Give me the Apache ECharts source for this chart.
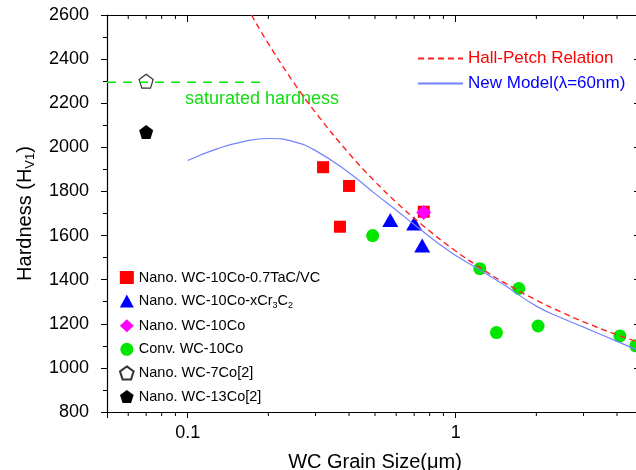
<!DOCTYPE html>
<html>
<head>
<meta charset="utf-8">
<script src="https://cdn.jsdelivr.net/npm/echarts@6/dist/echarts.min.js"></script>
<style>
  html, body { margin: 0; padding: 0; background: #fff; }
  #main { width: 636px; height: 470px; }
</style>
</head>
<body>
<div id="main"></div>
<script>
// axis ranges and ticks
const xMin = 0.05, xMax = 5;
const xLabels = [0.1, 1];
const xMinorTicks = [0.06, 0.07, 0.08, 0.09, 0.2, 0.3, 0.4, 0.5, 0.6, 0.7, 0.8, 0.9, 2, 3, 4];
const yMin = 800, yMax = 2600, yStep = 200;

// measured hardness points [grain size um, HV1]
const tacVc = [[0.32, 1910], [0.40, 1825], [0.37, 1640], [0.76, 1708]];
const cr3c2 = [[0.57, 1670], [0.70, 1655], [0.75, 1555]];
const nanoWc10Co = [[0.76, 1705]];
const convWc10Co = [[0.49, 1600], [1.23, 1450], [1.72, 1360], [1.42, 1160], [2.03, 1190], [4.1, 1145], [4.7, 1100]];
const wc7Co = [[0.07, 2300]];
const wc13Co = [[0.07, 2070]];

// curves
const hallPetch = [[0.173, 2600], [0.2, 2470], [0.25, 2290], [0.3, 2158], [0.4, 1972], [0.5, 1845], [0.6, 1751],
  [0.75, 1648], [1, 1530], [1.25, 1450], [1.5, 1390], [2, 1307], [2.5, 1251], [3, 1209], [4, 1150], [5, 1110]];
const newModel = [[0.1, 1940], [0.13, 1995], [0.16, 2025], [0.2, 2040], [0.25, 2025], [0.3, 1985], [0.4, 1885],
  [0.5, 1790], [0.6, 1715], [0.7, 1650], [0.85, 1570], [1, 1510], [1.25, 1440], [1.5, 1380], [2, 1280],
  [2.5, 1225], [3, 1185], [4, 1120], [5, 1070]];
const saturated = [[0.05, 2295], [0.19, 2295]];

const pentagon = 'path://M10,0 L19.51,6.91 L15.88,18.09 L4.12,18.09 L0.49,6.91 Z';
const font = 'Liberation Sans, Arial, sans-serif';

const chart = echarts.init(document.getElementById('main'));

const logAxis = {
  type: 'log',
  logBase: 10,
  min: xMin,
  max: xMax,
  splitLine: { show: false },
  axisLine: { lineStyle: { color: '#000', width: 1.2 } }
};

chart.setOption({
  animation: false,
  backgroundColor: '#fff',
  textStyle: { fontFamily: font },
  grid: { left: 107, width: 536, top: 15, height: 397, outerBoundsMode: 'none', containLabel: false },
  legend: [
    {
      orient: 'vertical',
      left: 412,
      top: 45,
      itemWidth: 45,
      itemHeight: 14,
      itemGap: 8,
      itemStyle: { opacity: 0 },
      textStyle: { fontSize: 17, fontFamily: font },
      data: [
        { name: 'Hall-Petch Relation', textStyle: { color: '#ff0000' } },
        { name: 'New Model(λ=60nm)', textStyle: { color: '#0000ff' } }
      ]
    },
    {
      orient: 'vertical',
      left: 114,
      top: 265,
      itemWidth: 14,
      itemHeight: 13,
      itemGap: 8.6,
      textStyle: {
        fontSize: 14.5, color: '#000', fontFamily: font,
        rich: { sub: { fontSize: 9, verticalAlign: 'bottom', padding: [8, 0, 0, 0] } }
      },
      formatter: function (name) {
        return name === 'Nano. WC-10Co-xCr3C2' ? 'Nano. WC-10Co-xCr{sub|3}C{sub|2}' : name;
      },
      data: ['Nano. WC-10Co-0.7TaC/VC', 'Nano. WC-10Co-xCr3C2', 'Nano. WC-10Co',
        'Conv. WC-10Co', 'Nano. WC-7Co[2]', 'Nano. WC-13Co[2]']
    }
  ],
  xAxis: [
    Object.assign({}, logAxis, {
      position: 'bottom',
      name: 'WC Grain Size(μm)',
      nameLocation: 'middle',
      nameGap: 40,
      nameTextStyle: { fontSize: 20, color: '#000', fontFamily: font },
      axisTick: { length: 6, lineStyle: { color: '#000' } },
      axisLabel: {
        fontSize: 18, color: '#000', margin: 12,
        formatter: function (v) {
          for (const l of xLabels) if (Math.abs(v - l) < 1e-9) return String(l);
          return '';
        }
      }
    }),
    Object.assign({}, logAxis, {
      position: 'top',
      axisTick: { inside: true, length: 7, lineStyle: { color: '#000' } },
      axisLabel: { show: false }
    })
  ],
  yAxis: [
    {
      type: 'value',
      min: yMin, max: yMax, interval: yStep,
      name: 'Hardness (H{sub|V1})',
      nameLocation: 'middle',
      nameGap: 70,
      nameTextStyle: {
        fontSize: 20, color: '#000', fontFamily: font,
        rich: { sub: { fontSize: 13, verticalAlign: 'bottom', padding: [10, 0, 0, 0] } }
      },
      splitLine: { show: false },
      axisLine: { show: true, lineStyle: { color: '#000', width: 1.2 } },
      axisTick: { length: 6, lineStyle: { color: '#000' } },
      minorTick: { show: true, splitNumber: 2, length: 4, lineStyle: { color: '#000' } },
      axisLabel: { fontSize: 18, color: '#000', margin: 18, formatter: function (v) { return String(v); } }
    },
    {
      type: 'value',
      position: 'right',
      min: yMin, max: yMax, interval: yStep,
      splitLine: { show: false },
      axisLine: { show: true, lineStyle: { color: '#000', width: 1.2 } },
      axisTick: { inside: true, length: 9, lineStyle: { color: '#000' } },
      axisLabel: { show: false }
    }
  ],
  series: [
    {
      name: 'saturated', type: 'line', data: saturated, symbol: 'none', silent: true,
      lineStyle: { color: '#00ee00', width: 1.5, type: [9, 7] }
    },
    {
      name: 'Hall-Petch Relation', type: 'line', data: hallPetch, symbol: 'none', smooth: true,
      lineStyle: { color: '#ff2020', width: 1.4, type: [6, 4] }, itemStyle: { color: '#ff2020' }
    },
    {
      name: 'New Model(λ=60nm)', type: 'line', data: newModel, symbol: 'none', smooth: true,
      lineStyle: { color: '#7383ff', width: 1.2 }, itemStyle: { color: '#7383ff' }
    },
    {
      name: 'Nano. WC-10Co-0.7TaC/VC', type: 'scatter', data: tacVc,
      symbol: 'rect', symbolSize: 12, itemStyle: { color: '#ff0000', opacity: 1 }
    },
    {
      name: 'Nano. WC-10Co-xCr3C2', type: 'scatter', data: cr3c2,
      symbol: 'triangle', symbolSize: [16, 14], itemStyle: { color: '#0000ff', opacity: 1 }
    },
    {
      name: 'Nano. WC-10Co', type: 'scatter', data: nanoWc10Co,
      symbol: 'diamond', symbolSize: 15, itemStyle: { color: '#ff00ff', opacity: 1 }
    },
    {
      name: 'Conv. WC-10Co', type: 'scatter', data: convWc10Co,
      symbol: 'circle', symbolSize: 13, itemStyle: { color: '#00e600', opacity: 1 }
    },
    {
      name: 'Nano. WC-7Co[2]', type: 'scatter', data: wc7Co,
      symbol: pentagon, symbolSize: 14,
      itemStyle: { color: '#fff', borderColor: '#333', borderWidth: 1.2, opacity: 1 }
    },
    {
      name: 'Nano. WC-13Co[2]', type: 'scatter', data: wc13Co,
      symbol: pentagon, symbolSize: 14, itemStyle: { color: '#000', opacity: 1 }
    }
  ]
});

// log minor ticks at 2..9 of each decade, bottom (outward) and top (inward)
const yBottom = chart.convertToPixel({ yAxisIndex: 0 }, yMin);
const yTop = chart.convertToPixel({ yAxisIndex: 0 }, yMax);
const tickMarks = [];
xMinorTicks.forEach(function (v) {
  const px = chart.convertToPixel({ xAxisIndex: 0 }, v);
  tickMarks.push({ type: 'line', shape: { x1: px, y1: yBottom, x2: px, y2: yBottom + 4 }, style: { stroke: '#000', lineWidth: 1 } });
  tickMarks.push({ type: 'line', shape: { x1: px, y1: yTop, x2: px, y2: yTop + 4 }, style: { stroke: '#000', lineWidth: 1 } });
});
tickMarks.push({
  type: 'text', left: 185, top: 90,
  style: { text: 'saturated hardness', fill: '#11dd11', fontSize: 18, fontFamily: font }
});
chart.setOption({ graphic: tickMarks });
</script>
</body>
</html>
